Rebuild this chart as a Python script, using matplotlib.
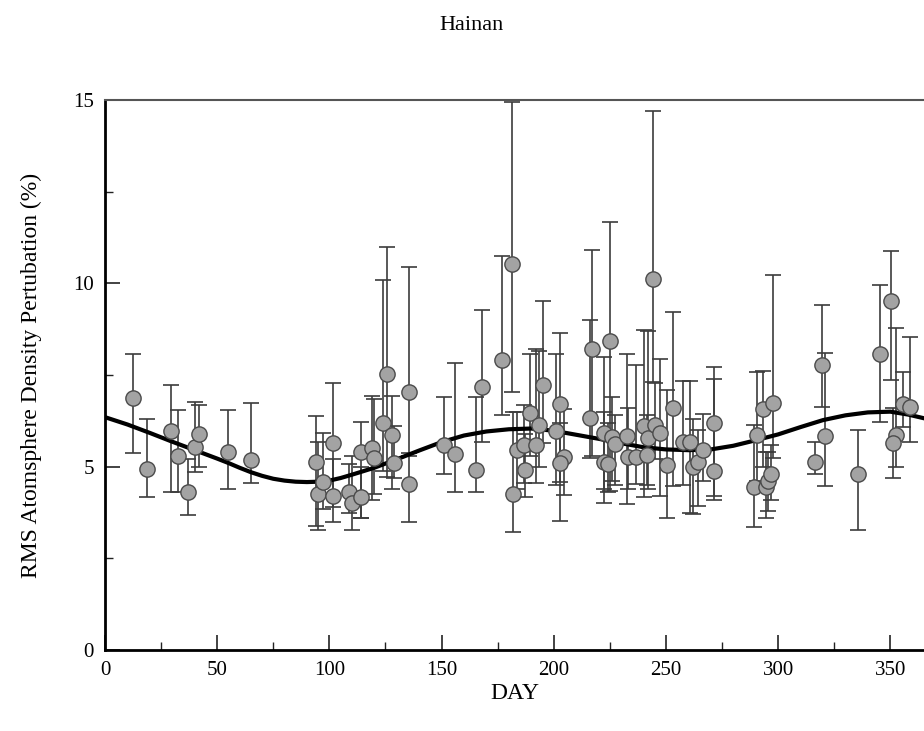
import matplotlib
matplotlib.use("Agg")
import matplotlib.pyplot as plt
import numpy as np
from matplotlib.ticker import MultipleLocator

# observations: day, rms value, upper / lower end of the error bar
day = [12.6, 18.8, 29.3, 32.6, 37.0, 40.0, 41.9, 54.8, 64.9,
       94.1, 95.1, 97.0, 101.5, 101.8, 108.9, 110.1, 114.1, 114.1, 119.0, 120.0,
       123.7, 125.9, 127.9, 128.9, 135.3, 135.3, 151.1, 155.9, 165.2, 168.1,
       177.0, 181.2, 181.9, 183.4, 186.7, 187.4, 189.3, 192.3, 193.3, 195.3,
       201.2, 202.7, 204.4, 203.0, 216.3, 217.0, 222.2, 222.2, 225.2, 224.1,
       225.9, 227.1, 232.6, 233.3, 236.6, 240.4, 241.5, 242.2, 244.4, 245.2,
       247.4, 250.4, 253.3, 257.8, 260.7, 262.2, 264.4, 266.4, 271.4, 271.4,
       289.3, 290.4, 293.3, 294.5, 295.6, 296.6, 297.5,
       316.6, 319.6, 321.1, 335.5, 345.2, 350.4, 352.3, 351.3, 355.5, 358.6]
rms = [6.88, 4.93, 5.97, 5.30, 4.30, 5.54, 5.88, 5.39, 5.18,
       5.14, 4.25, 4.59, 5.64, 4.20, 4.32, 4.02, 5.40, 4.17, 5.52, 5.25,
       6.20, 7.54, 5.86, 5.10, 7.03, 4.53, 5.60, 5.35, 4.90, 7.17,
       7.92, 10.52, 4.25, 5.46, 5.58, 4.92, 6.46, 5.59, 6.14, 7.22,
       5.98, 6.71, 5.26, 5.09, 6.32, 8.22, 5.93, 5.14, 8.43, 5.08,
       5.80, 5.63, 5.84, 5.27, 5.26, 6.11, 5.32, 5.78, 10.13, 6.14,
       5.93, 5.04, 6.59, 5.68, 5.66, 5.00, 5.13, 5.46, 6.20, 4.89,
       4.45, 5.87, 6.58, 4.45, 4.60, 4.80, 6.74,
       5.14, 7.78, 5.85, 4.80, 8.06, 9.52, 5.87, 5.65, 6.70, 6.62]
upper = [8.06, 6.30, 7.23, 6.54, 5.20, 6.77, 6.68, 6.55, 6.75,
         6.39, 5.66, 5.92, 7.28, 5.20, 5.08, 5.30, 6.22, 5.00, 6.92, 6.84,
         10.10, 11.00, 6.92, 6.10, 10.44, 5.36, 6.89, 7.82, 6.91, 9.26,
         10.75, 14.94, 6.48, 6.48, 6.67, 5.90, 8.07, 8.20, 8.16, 9.51,
         8.07, 8.64, 6.57, 6.20, 9.01, 10.90, 8.00, 6.50, 11.68, 6.20,
         6.90, 6.40, 8.06, 6.60, 7.76, 8.73, 6.40, 8.69, 14.70, 7.27,
         7.94, 7.10, 9.23, 7.34, 7.33, 6.30, 6.00, 6.44, 7.73, 7.40,
         6.15, 7.59, 7.60, 5.40, 5.40, 5.60, 10.22,
         5.67, 9.40, 8.09, 6.00, 9.95, 10.89, 8.78, 6.60, 7.58, 8.54]
lower = [5.36, 4.18, 4.30, 4.30, 3.68, 4.85, 5.00, 4.40, 4.55,
         3.39, 3.27, 3.85, 3.90, 3.50, 3.74, 3.28, 3.61, 3.61, 4.08, 4.25,
         4.88, 4.72, 4.40, 4.70, 5.30, 3.48, 4.81, 4.30, 4.30, 5.66,
         6.41, 7.05, 3.22, 4.40, 4.55, 4.18, 5.30, 4.55, 5.00, 5.64,
         4.50, 3.52, 4.23, 4.58, 5.25, 5.30, 4.00, 4.40, 4.35, 4.30,
         4.60, 4.50, 3.98, 4.40, 4.52, 4.17, 4.50, 4.40, 7.30, 5.20,
         4.20, 3.60, 4.47, 4.50, 3.74, 3.70, 3.92, 4.60, 4.10, 4.20,
         3.36, 4.60, 5.00, 3.59, 3.80, 4.10, 5.24,
         4.81, 6.62, 4.46, 3.27, 6.22, 7.37, 4.98, 4.70, 6.07, 5.68]

# fitted curve
fit_day = [0, 10, 20, 30, 40, 50, 55, 60, 65, 70, 75, 80, 85, 90, 95, 100, 105,
           110, 120, 130, 140, 150, 160, 170, 180, 190, 200, 210, 220, 230, 240,
           250, 260, 270, 280, 290, 300, 310, 320, 330, 340, 350, 358, 365]
fit_val = [6.35, 6.15, 5.92, 5.68, 5.45, 5.22, 5.10, 4.97, 4.85, 4.75, 4.67,
           4.62, 4.59, 4.58, 4.59, 4.62, 4.69, 4.78, 4.97, 5.20, 5.44, 5.67,
           5.85, 5.96, 6.02, 6.04, 5.98, 5.87, 5.76, 5.64, 5.53, 5.47, 5.45,
           5.47, 5.57, 5.72, 5.88, 6.08, 6.27, 6.40, 6.48, 6.50, 6.42, 6.32]

plt.rcParams["font.family"] = ["Liberation Serif", "DejaVu Serif"]

fig = plt.figure(figsize=(9.24, 7.31), dpi=100)
ax = fig.add_axes([105 / 924, 81 / 731, 819 / 924, 550 / 731])

day = np.array(day)
rms = np.array(rms)
yerr = np.vstack([rms - np.array(lower), np.array(upper) - rms])
ax.errorbar(day, rms, yerr=yerr, fmt="none", ecolor="#3c3c3c", elinewidth=1.2,
            capsize=5.5, capthick=1.2, zorder=2)
ax.plot(fit_day, fit_val, color="black", lw=3, zorder=3)
ax.plot(day, rms, "o", ms=11, mfc="#a3a3a3", mec="#4a4a4a", mew=1.0, zorder=4)

ax.set_xlim(0, 365)
ax.set_ylim(0, 15)
ax.xaxis.set_major_locator(MultipleLocator(50))
ax.xaxis.set_minor_locator(MultipleLocator(25))
ax.yaxis.set_major_locator(MultipleLocator(5))
ax.yaxis.set_minor_locator(MultipleLocator(2.5))
ax.tick_params(which="both", direction="in", labelsize=15, colors="#222222",
               labelcolor="black")
ax.tick_params(which="major", length=11, width=1.2, pad=8)
ax.tick_params(which="minor", length=6, width=1.0)
ax.spines["right"].set_visible(False)
ax.spines["left"].set_linewidth(2)
ax.spines["bottom"].set_linewidth(2)
ax.spines["top"].set_linewidth(1.5)
ax.spines["top"].set_color("#555555")

ax.set_xlabel("DAY", fontsize=17, labelpad=2)
ax.set_ylabel("RMS Atomsphere Density Pertubation (%)", fontsize=17, labelpad=22)
fig.text(472 / 924, 1 - 25 / 731, "Hainan", ha="center", va="center", fontsize=16)

fig.savefig("out.png", dpi=100)
